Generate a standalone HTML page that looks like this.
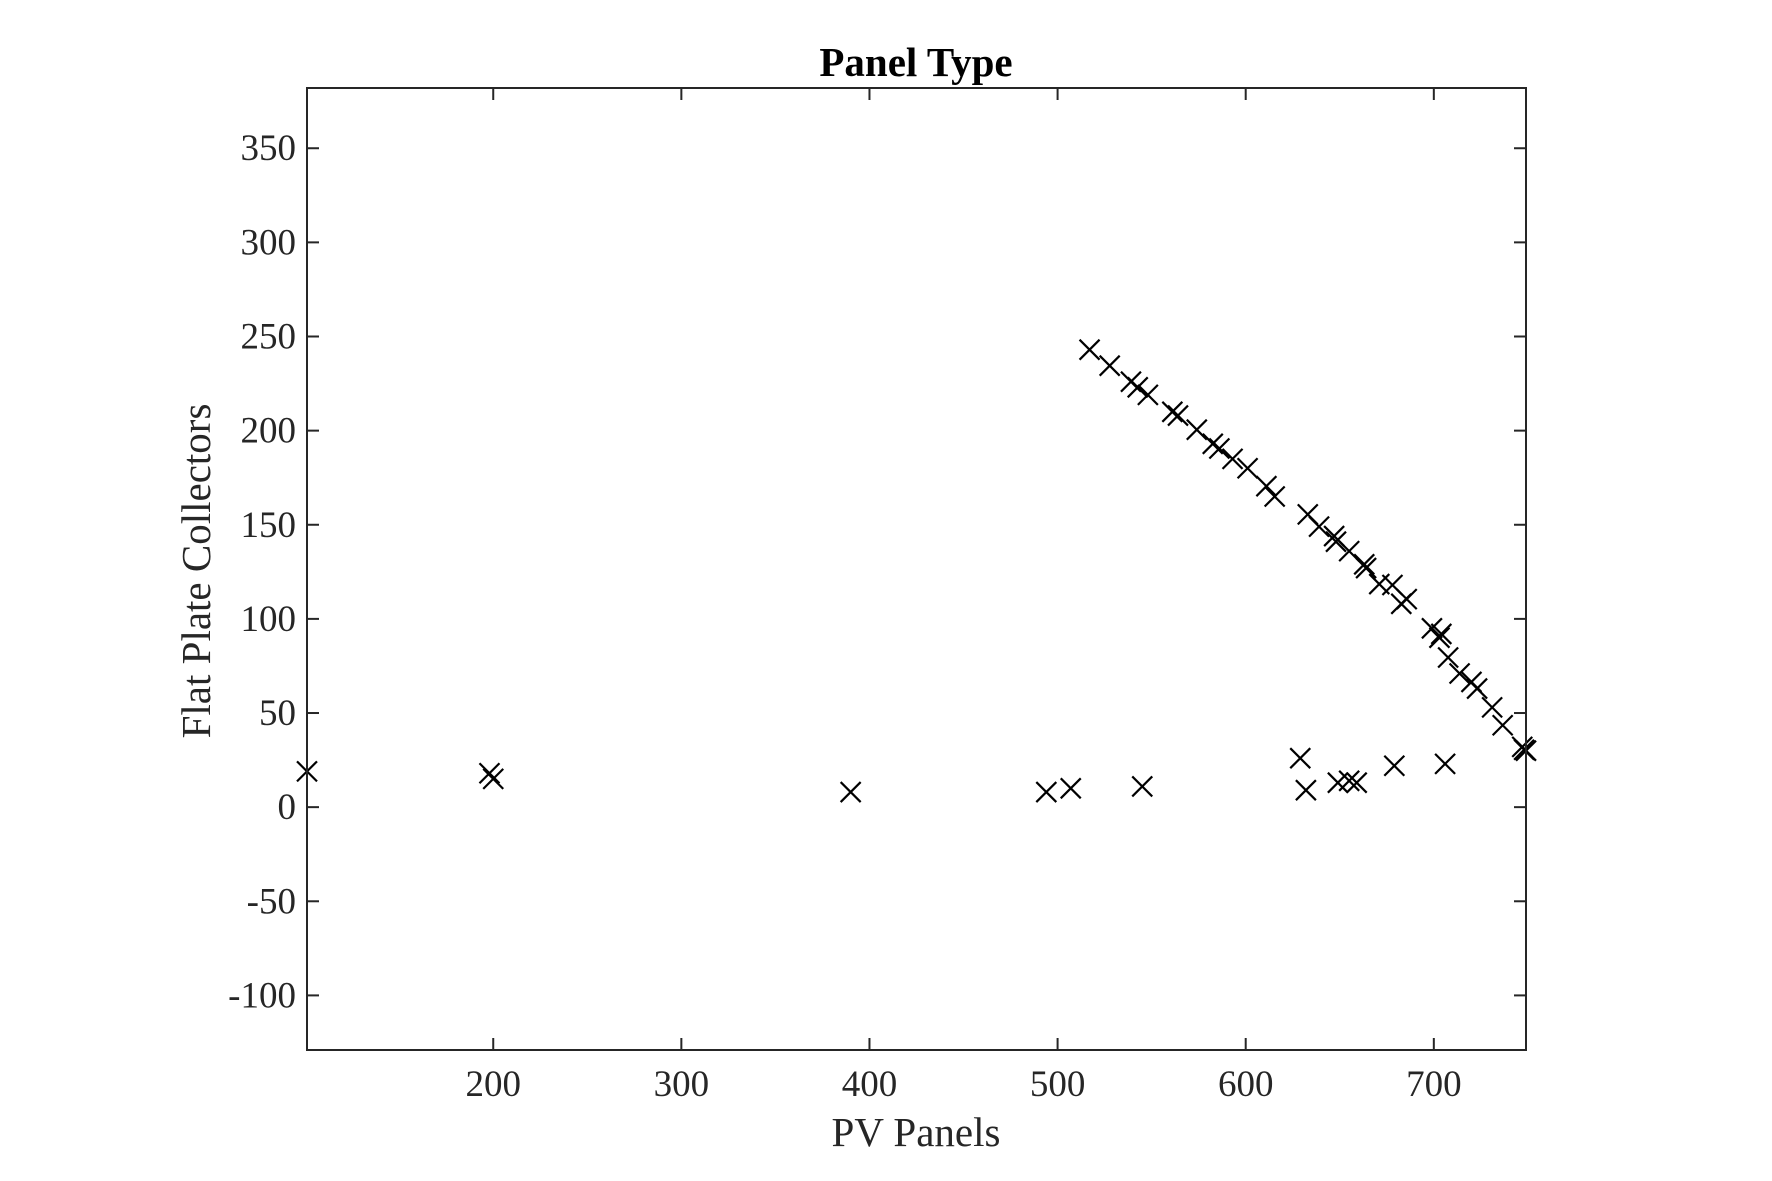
<!DOCTYPE html>
<html><head><meta charset="utf-8"><style>
html,body{margin:0;padding:0;background:#fff;}
svg{display:block;font-family:"Liberation Serif",serif;}
</style></head><body>
<svg id="chart" width="1772" height="1181" viewBox="0 0 1772 1181">
<rect x="0" y="0" width="1772" height="1181" fill="#fff"/>
<g id="ticks"></g>
<g id="marks"></g>
<rect x="307" y="88" width="1219" height="962" fill="none" stroke="#262626" stroke-width="2"/>
<text x="916" y="76" text-anchor="middle" font-size="41" font-weight="bold" fill="#000">Panel Type</text>
<text x="916" y="1146" text-anchor="middle" font-size="41" fill="#262626">PV Panels</text>
<text transform="translate(210,571) rotate(-90)" text-anchor="middle" font-size="41" fill="#262626">Flat Plate Collectors</text>
</svg>
<script>
const xTicks=[200,300,400,500,600,700];
const yTicks=[-100,-50,0,50,100,150,200,250,300,350];
const pvPanels=[101,198,200,390,494,507,545,629,632,649,655,659,679,706,
517,527.7,539,542.6,548,561,564,574,582.5,586,593,601,611,615.4,633,639,647,648,655,663,664,671,678,682.7,685.6,699,704,703,707.6,713.7,720,723,731,736.6,747,748,749];
const flatPlate=[19,18,15,8,8,10,11,26,9,13,14,13,22,23,
243,234.5,226,223,219,210,208,200.5,193,190.5,185,180,170.5,165,155.5,149,144,141,136,129,127,118.5,118,108,110.5,95,92,90,79.5,71,66.5,63,53,43.5,32,30.5,30];
const X0=307,X1=1526,XMIN=101,XMAX=749;
const Y0=1050,Y1=88,YMIN=-129,YMAX=382;
function sx(v){return X0+(v-XMIN)/(XMAX-XMIN)*(X1-X0);}
function sy(v){return Y0-(v-YMIN)/(YMAX-YMIN)*(Y0-Y1);}
const NS="http://www.w3.org/2000/svg";
const tg=document.getElementById('ticks');
function line(g,x1,y1,x2,y2,w){const l=document.createElementNS(NS,'line');l.setAttribute('x1',x1);l.setAttribute('y1',y1);l.setAttribute('x2',x2);l.setAttribute('y2',y2);l.setAttribute('stroke','#262626');l.setAttribute('stroke-width',w);g.appendChild(l);return l;}
xTicks.forEach(v=>{const x=sx(v);
const a=line(tg,x,Y0,x,Y0-12,2);


const b=line(tg,x,Y1,x,Y1+12,2);


const t=document.createElementNS(NS,'text');t.setAttribute('x',x);t.setAttribute('y',1096);t.setAttribute('text-anchor','middle');t.setAttribute('font-size','37');t.setAttribute('fill','#262626');t.textContent=v;


tg.appendChild(t);});
yTicks.forEach(v=>{const y=sy(v);
const a=line(tg,X0,y,X0+12,y,2);


const b=line(tg,X1,y,X1-12,y,2);


const t=document.createElementNS(NS,'text');t.setAttribute('x',296);t.setAttribute('y',y+12);t.setAttribute('text-anchor','end');t.setAttribute('font-size','37');t.setAttribute('fill','#262626');t.textContent=v;


tg.appendChild(t);});
const mg=document.getElementById('marks');
pvPanels.forEach((v,i)=>{const x=sx(v),y=sy(flatPlate[i]),r=10;
const g=document.createElementNS(NS,'g');


line(g,x-r,y-r,x+r,y+r,2.2);line(g,x-r,y+r,x+r,y-r,2.2);
g.querySelectorAll('line').forEach(l=>l.setAttribute('stroke','#000'));
mg.appendChild(g);});
</script>
</body></html>
